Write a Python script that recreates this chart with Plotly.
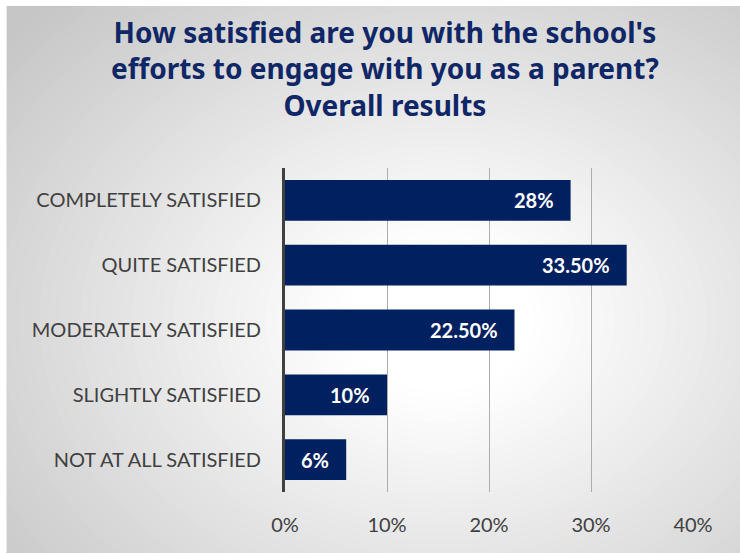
import plotly.graph_objects as go

categories = ["COMPLETELY SATISFIED", "QUITE SATISFIED", "MODERATELY SATISFIED",
              "SLIGHTLY SATISFIED", "NOT AT ALL SATISFIED"]
values = [0.28, 0.335, 0.225, 0.10, 0.06]
labels = ["28%", "33.50%", "22.50%", "10%", "6%"]
x_ticks = [0, 0.1, 0.2, 0.3, 0.4]
x_tick_labels = ["0%", "10%", "20%", "30%", "40%"]

W, H = 740, 553
L, R, T, B = 285, 47, 167.5, 60.5
PW, PH = W - L - R, H - T - B

def px(x):
    return (x - L) / PW

def py(y):
    return (H - B - y) / PH

NAVY = "#002060"
TXT = "#404040"

fig = go.Figure()
fig.add_trace(go.Bar(
    y=categories, x=values, orientation="h",
    marker=dict(color=NAVY, line=dict(width=0)),
    hoverinfo="skip",
))

# background radial gradient via concentric ellipses
shapes = []
cx, cy = 440, 320
RX, RY = 440, 340
shapes.append(dict(type="rect", xref="paper", yref="paper", layer="below",
                   x0=px(6), x1=px(W), y0=py(5), y1=py(H),
                   fillcolor="#c6c6c6", line=dict(width=0)))

def col(r):
    t = (r - 0.22) / 1.08
    t = max(0.0, min(1.0, t))
    v = int(round(255 - 57 * t))
    return "rgb(%d,%d,%d)" % (v, v, v)

n = 60
for i in range(n, 0, -1):
    r = 1.4 * i / n
    shapes.append(dict(type="circle", xref="paper", yref="paper", layer="below",
                       x0=px(cx - r * RX), x1=px(cx + r * RX),
                       y0=py(cy + r * RY), y1=py(cy - r * RY),
                       fillcolor=col(r), line=dict(width=0)))
# white border masks
shapes.append(dict(type="rect", xref="paper", yref="paper", layer="below",
                   x0=px(-200), x1=px(6), y0=py(H + 200), y1=py(-200),
                   fillcolor="white", line=dict(width=0)))
shapes.append(dict(type="rect", xref="paper", yref="paper", layer="below",
                   x0=px(-200), x1=px(W + 200), y0=py(5), y1=py(-200),
                   fillcolor="white", line=dict(width=0)))
shapes.append(dict(type="line", xref="paper", yref="paper", layer="below",
                   x0=px(6.5), x1=px(6.5), y0=py(5), y1=py(H),
                   line=dict(color="#e8e8e8", width=1)))

annotations = []
for c, v, t in zip(categories, values, labels):
    annotations.append(dict(x=v, y=c, xref="x", yref="y", text="<b>%s</b>" % t,
                            showarrow=False, xanchor="right", xshift=-15,
                            font=dict(family="Lato, sans-serif", size=20, color="white")))

annotations.append(dict(
    text="<b>How satisfied are you with the school's<br>efforts to engage with you as a parent?<br>Overall results</b>",
    x=px(385), xref="paper", xanchor="center",
    y=py(10), yref="paper", yanchor="top",
    showarrow=False, align="center",
    font=dict(family="Noto Sans, sans-serif", size=28, color="#0f2766"),
))

fig.update_layout(
    width=W, height=H,
    margin=dict(l=L, r=R, t=T, b=B, pad=0),
    paper_bgcolor="white",
    plot_bgcolor="rgba(0,0,0,0)",
    bargap=0.37,
    showlegend=False,
    shapes=shapes,
    annotations=annotations,
    xaxis=dict(
        range=[0, 0.4], tickvals=x_ticks, ticktext=x_tick_labels,
        showgrid=True, gridcolor="#adadad", gridwidth=1,
        zeroline=False, showline=False,
        ticks="outside", ticklen=15, tickcolor="rgba(0,0,0,0)",
        tickfont=dict(family="Lato, sans-serif", size=20, color=TXT),
        fixedrange=True,
    ),
    yaxis=dict(
        categoryorder="array", categoryarray=categories[::-1],
        showgrid=False, zeroline=False,
        showline=True, linecolor="#404040", linewidth=3,
        ticks="outside", ticklen=17, tickcolor="rgba(0,0,0,0)",
        tickfont=dict(family="Lato, sans-serif", size=20, color=TXT),
        fixedrange=True,
    ),
)

fig.write_html("out.html", config={"displayModeBar": False},
               post_script="document.body.style.margin='0px';document.body.style.overflow='hidden';")
